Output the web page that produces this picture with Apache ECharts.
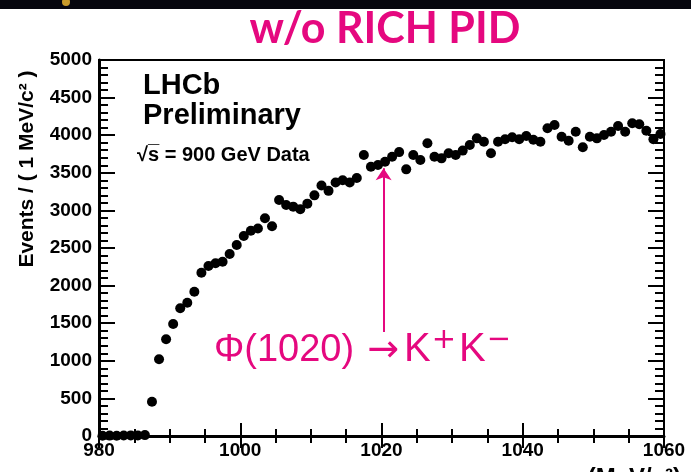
<!DOCTYPE html>
<html><head><meta charset="utf-8">
<script src="https://cdn.jsdelivr.net/npm/echarts@6/dist/echarts.min.js"></script>
<style>html,body{margin:0;padding:0;background:#fff}#c{width:691px;height:472px}</style>
</head><body><div id="c"></div>
<script>
// bin centres (MeV/c^2)
const massBins = [980.5,981.5,982.5,983.5,984.5,985.5,986.5,987.5,988.5,989.5,
  990.5,991.5,992.5,993.5,994.5,995.5,996.5,997.5,998.5,999.5,
  1000.5,1001.5,1002.5,1003.5,1004.5,1005.5,1006.5,1007.5,1008.5,1009.5,
  1010.5,1011.5,1012.5,1013.5,1014.5,1015.5,1016.5,1017.5,1018.5,1019.5,
  1020.5,1021.5,1022.5,1023.5,1024.5,1025.5,1026.5,1027.5,1028.5,1029.5,
  1030.5,1031.5,1032.5,1033.5,1034.5,1035.5,1036.5,1037.5,1038.5,1039.5,
  1040.5,1041.5,1042.5,1043.5,1044.5,1045.5,1046.5,1047.5,1048.5,1049.5,
  1050.5,1051.5,1052.5,1053.5,1054.5,1055.5,1056.5,1057.5,1058.5,1059.5];
// events per bin
const events = [3,5,4,6,8,7,12,456,1020,1286,
  1489,1698,1773,1919,2172,2261,2297,2318,2420,2540,
  2660,2730,2760,2895,2790,3138,3072,3050,3015,3090,
  3200,3330,3260,3370,3400,3370,3430,3737,3581,3604,
  3648,3714,3775,3546,3737,3670,3892,3714,3692,3759,
  3737,3795,3870,3958,3914,3759,3914,3945,3972,3945,
  3989,3940,3914,4092,4136,3980,3927,4047,3839,3980,
  3958,4003,4047,4122,4047,4158,4145,4060,3945,4016];
const xTicks = [980,1000,1020,1040,1060];
const yTicks = [0,500,1000,1500,2000,2500,3000,3500,4000,4500,5000];
const arrowX = 1020.3, arrowFrom = 1383, arrowTo = 3560;

const magenta = '#e5087f';
const lblFont = {fontFamily:'"Liberation Sans", Arial, sans-serif', fontWeight:'bold', fontSize:19, color:'#000'};
const plain = v => String(v);
const chart = echarts.init(document.getElementById('c'), null, {renderer:'canvas'});
const pts = massBins.map((m,i)=>[m, events[i]]);
chart.setOption({
  animation:false,
  backgroundColor:'#fff',
  grid:{left:99, right:27, top:60, bottom:36, show:true, borderColor:'#000', borderWidth:2},
  xAxis:[{
    type:'value', min:xTicks[0], max:xTicks[xTicks.length-1], interval:20,
    axisLine:{show:true, lineStyle:{color:'#000', width:3}},
    axisTick:{show:true, inside:true, length:13, lineStyle:{color:'#000', width:2}},
    minorTick:{show:true, splitNumber:4, length:7, lineStyle:{color:'#000', width:2}},
    splitLine:{show:false},
    axisLabel:Object.assign({margin:5, formatter:plain}, lblFont)
  },{
    type:'value', position:'top', min:xTicks[0], max:xTicks[xTicks.length-1], interval:20,
    axisLine:{show:true, lineStyle:{color:'#000', width:2}},
    axisTick:{show:true, inside:true, length:12, lineStyle:{color:'#000', width:2}},
    minorTick:{show:true, splitNumber:4, length:7, lineStyle:{color:'#000', width:2}},
    splitLine:{show:false}, axisLabel:{show:false}
  }],
  yAxis:[{
    type:'value', min:yTicks[0], max:yTicks[yTicks.length-1], interval:500,
    axisLine:{show:true, lineStyle:{color:'#000', width:3}},
    axisTick:{show:true, inside:true, length:16, lineStyle:{color:'#000', width:2}},
    minorTick:{show:true, splitNumber:5, length:9, lineStyle:{color:'#000', width:2}},
    splitLine:{show:false},
    axisLabel:Object.assign({margin:7, formatter:plain}, lblFont)
  },{
    type:'value', position:'right', min:yTicks[0], max:yTicks[yTicks.length-1], interval:500,
    axisLine:{show:true, lineStyle:{color:'#000', width:2}},
    axisTick:{show:true, inside:true, length:16, lineStyle:{color:'#000', width:2}},
    minorTick:{show:true, splitNumber:5, length:9, lineStyle:{color:'#000', width:2}},
    splitLine:{show:false}, axisLabel:{show:false}
  }],
  series:[{
    type:'scatter', xAxisIndex:0, yAxisIndex:0, data:pts, symbol:'circle', symbolSize:10,
    itemStyle:{color:'#000', opacity:1}, clip:false, z:5,
    markLine:{
      silent:true, symbol:['none','arrow'], symbolSize:12, label:{show:false},
      lineStyle:{color:magenta, width:2, type:'solid'},
      itemStyle:{color:magenta},
      data:[[{coord:[arrowX, arrowFrom]},{coord:[arrowX, arrowTo]}]]
    }
  }],
  graphic:[
    {type:'rect', shape:{x:0,y:0,width:691,height:9}, style:{fill:'#06060e'}},
    {type:'circle', shape:{cx:66,cy:2,r:4}, style:{fill:'#c89a2a'}},
    {type:'text', x:385, y:29, style:{text:'w/o RICH PID', fill:magenta, font:'bold 43px Lato, "Open Sans", sans-serif', align:'center', verticalAlign:'middle'}},
    {type:'text', x:143, y:86, style:{text:'LHCb', fill:'#000', font:'bold 29px "Liberation Sans", Arial, sans-serif', align:'left', verticalAlign:'middle'}},
    {type:'text', x:143, y:116, style:{text:'Preliminary', fill:'#000', font:'bold 29px "Liberation Sans", Arial, sans-serif', align:'left', verticalAlign:'middle'}},
    {type:'text', x:137, y:155, style:{text:'\u221As\u0305 = 900 GeV Data', fill:'#000', font:'bold 20px "Liberation Sans", Arial, sans-serif', align:'left', verticalAlign:'middle'}},
    {type:'text', x:27, y:169, rotation:Math.PI/2, style:{text:'Events / ( 1 MeV/c\u00B2 )', fill:'#000', font:'bold 21px "Liberation Sans", Arial, sans-serif', align:'center', verticalAlign:'middle'}},
    {type:'text', x:681, y:466, style:{text:'(MeV/c\u00B2)', fill:'#000', font:'bold 24px "Liberation Sans", Arial, sans-serif', align:'right', verticalAlign:'top'}},
    {type:'text', x:214, y:326, style:{
      text:'{a|\u03A6(1020)}{b|\u2192}{k|K}{s|+}{k|K}{s|\u2212}',
      rich:{
        a:{fill:magenta, fontFamily:'"Liberation Sans", Arial, sans-serif', fontSize:38, lineHeight:44, verticalAlign:'bottom'},
        k:{fill:magenta, fontFamily:'"Liberation Sans", Arial, sans-serif', fontSize:40, lineHeight:44, verticalAlign:'bottom'},
        b:{fill:magenta, fontFamily:'"DejaVu Sans", sans-serif', fontSize:38, lineHeight:44, verticalAlign:'bottom', padding:[0,5,0,13]},
        s:{fill:magenta, fontFamily:'"DejaVu Sans", sans-serif', fontSize:29, lineHeight:30, verticalAlign:'top', padding:[0,3,0,1]}
      }, align:'left', verticalAlign:'top'}}
  ]
});
</script></body></html>
